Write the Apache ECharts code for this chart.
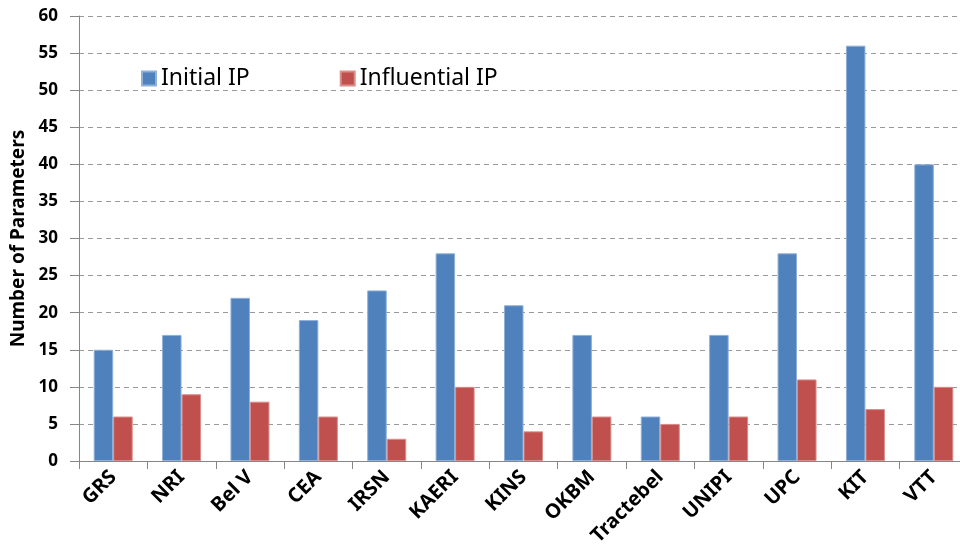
<html>
<head>
<meta charset="utf-8">
<script type="text/javascript" src="https://cdn.jsdelivr.net/npm/echarts@6/dist/echarts.min.js"></script>
</head>
<body style="margin: 0; padding: 0; background: #fff;">
<div id="myChart" style="width: 960px; height: 554px;"></div>
<script type="text/javascript">
var labs = ['GRS', 'NRI', 'Bel V', 'CEA', 'IRSN', 'KAERI', 'KINS', 'OKBM', 'Tractebel', 'UNIPI', 'UPC', 'KIT', 'VTT'];
var initialIP = [15, 17, 22, 19, 23, 28, 21, 17, 6, 17, 28, 56, 40];
var influentialIP = [6, 9, 8, 6, 3, 10, 4, 6, 5, 6, 11, 7, 10];
var yTicks = [0, 60, 5];

var font = '"Noto Sans", "Open Sans", sans-serif';
var option = {
    animation: false,
    textStyle: { fontFamily: font },
    legend: {
        left: 136,
        top: 62,
        itemWidth: 14,
        itemHeight: 14,
        itemGap: 90,
        icon: 'rect',
        textStyle: { fontSize: 23, color: '#000', fontFamily: font },
        data: ['Initial IP', 'Influential IP']
    },
    grid: { left: 79, right: -8, top: 16, bottom: 93, outerBoundsMode: 'none' },
    xAxis: {
        type: 'category',
        data: labs,
        axisLine: { lineStyle: { color: '#868686', width: 1 } },
        axisTick: { show: true, length: 8, lineStyle: { color: '#868686' } },
        axisLabel: { rotate: 45, fontSize: 20, fontWeight: 'bold', color: '#000', margin: 13, fontFamily: font, hideOverlap: false }
    },
    yAxis: {
        type: 'value',
        min: yTicks[0],
        max: yTicks[1],
        interval: yTicks[2],
        name: 'Number of Parameters',
        nameLocation: 'middle',
        nameGap: 50,
        nameTextStyle: { fontSize: 19, fontWeight: 'bold', color: '#000', fontFamily: font },
        axisLine: { show: true, lineStyle: { color: '#868686' } },
        axisTick: { show: true, length: 9, lineStyle: { color: '#868686' } },
        axisLabel: { fontSize: 17, fontWeight: 'bold', color: '#000', margin: 21, fontFamily: font },
        splitLine: { lineStyle: { color: '#9a9a9a', type: [5, 4] } }
    },
    series: [
        {
            name: 'Initial IP',
            type: 'bar',
            data: initialIP,
            barWidth: 19.5,
            barGap: '0%',
            itemStyle: { color: '#4F81BD', borderColor: '#8fb0d8', borderWidth: 1 }
        },
        {
            name: 'Influential IP',
            type: 'bar',
            data: influentialIP,
            barWidth: 19.5,
            itemStyle: { color: '#C0504D', borderColor: '#d98e8c', borderWidth: 1 }
        }
    ]
};
echarts.init(document.getElementById('myChart')).setOption(option);
</script>
</body>
</html>
